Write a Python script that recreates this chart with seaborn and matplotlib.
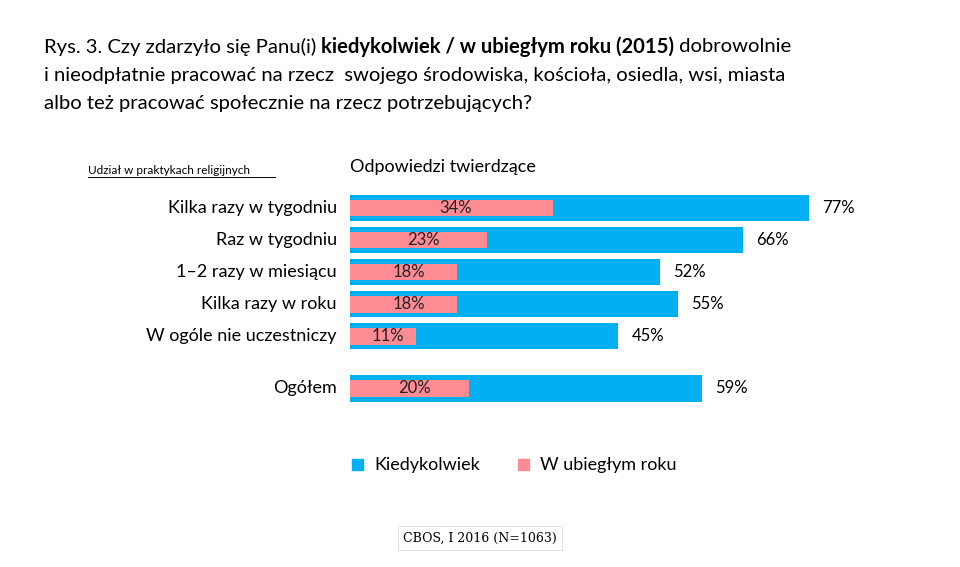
import matplotlib
matplotlib.use("Agg")
import matplotlib.pyplot as plt
import seaborn as sns
import pandas as pd

categories = ["Kilka razy w tygodniu", "Raz w tygodniu", "1–2 razy w miesiącu",
              "Kilka razy w roku", "W ogóle nie uczestniczy", "Ogółem"]
positions = [0, 1, 2, 3, 4, 5.625]
kiedykolwiek = [77, 66, 52, 55, 45, 59]
ubiegly_rok = [34, 23, 18, 18, 11, 20]

BLUE = "#00B0F0"
PINK = "#FF8B94"
FONT = "Lato"
plt.rcParams["font.family"] = FONT

df = pd.DataFrame({"pos": positions, "k": kiedykolwiek, "u": ubiegly_rok})

fig = plt.figure(figsize=(9.6, 5.67), dpi=100)
ax = fig.add_axes([350/960, 157/567, 596/960, 226/567])
sns.barplot(data=df, x="k", y="pos", orient="h", native_scale=True, color=BLUE,
            width=0.82, saturation=1, ax=ax, linewidth=0)
sns.barplot(data=df, x="u", y="pos", orient="h", native_scale=True, color=PINK,
            width=0.52, saturation=1, ax=ax, linewidth=0)
ax.set_xlim(0, 100)
ax.set_ylim(6.3, -0.75)
ax.axis("off")
for p, c, k, u in zip(positions, categories, kiedykolwiek, ubiegly_rok):
    ax.text(-2.2, p, c, ha="right", va="center", fontsize=13)
    ax.text(k + 2.2, p, f"{k}%", ha="left", va="center", fontsize=12)
    ax.text(u / 2 + 0.8, p, f"{u}%", ha="center", va="center", fontsize=12, color="#222222")

lines = [[("Rys. 3. Czy zdarzyło się Panu(i) ", "normal"), ("kiedykolwiek / w ubiegłym roku (2015)", "bold"),
          (" dobrowolnie", "normal")],
         [("i nieodpłatnie pracować na rzecz  swojego środowiska, kościoła, osiedla, wsi, miasta", "normal")],
         [("albo też pracować społecznie na rzecz potrzebujących?", "normal")]]
fig.canvas.draw()
r = fig.canvas.get_renderer()
for i, line in enumerate(lines):
    x = 44 / 960
    y = 1 - (47 + 28.5 * i) / 567
    for s, w in line:
        t = fig.text(x, y, s, fontsize=14.6, fontweight=w, va="center", ha="left")
        bb = t.get_window_extent(r)
        x += bb.width / 960

fig.text(88/960, 1 - 170/567, "Udział w praktykach religijnych", fontsize=8.5, va="center")
fig.add_artist(plt.Line2D([88/960, 275/960], [1 - 177/567] * 2, color="black", lw=0.7))
fig.text(350/960, 1 - 167/567, "Odpowiedzi twierdzące", fontsize=13, va="center")

for lx, lab, col in [(352, "Kiedykolwiek", BLUE), (518, "W ubiegłym roku", PINK)]:
    fig.patches.append(plt.Rectangle((lx/960, 1 - 470/567), 11/960, 11/567, color=col,
                                     transform=fig.transFigure, figure=fig))
    fig.text((lx + 22)/960, 1 - 465/567, lab, fontsize=13, va="center")

fig.text(480/960, 1 - 538/567, "CBOS, I 2016 (N=1063)", fontsize=9, family="DejaVu Serif",
         ha="center", va="center",
         bbox=dict(facecolor="white", edgecolor="#dddddd", linewidth=0.6, pad=4))
fig.savefig("out.png", dpi=100)
